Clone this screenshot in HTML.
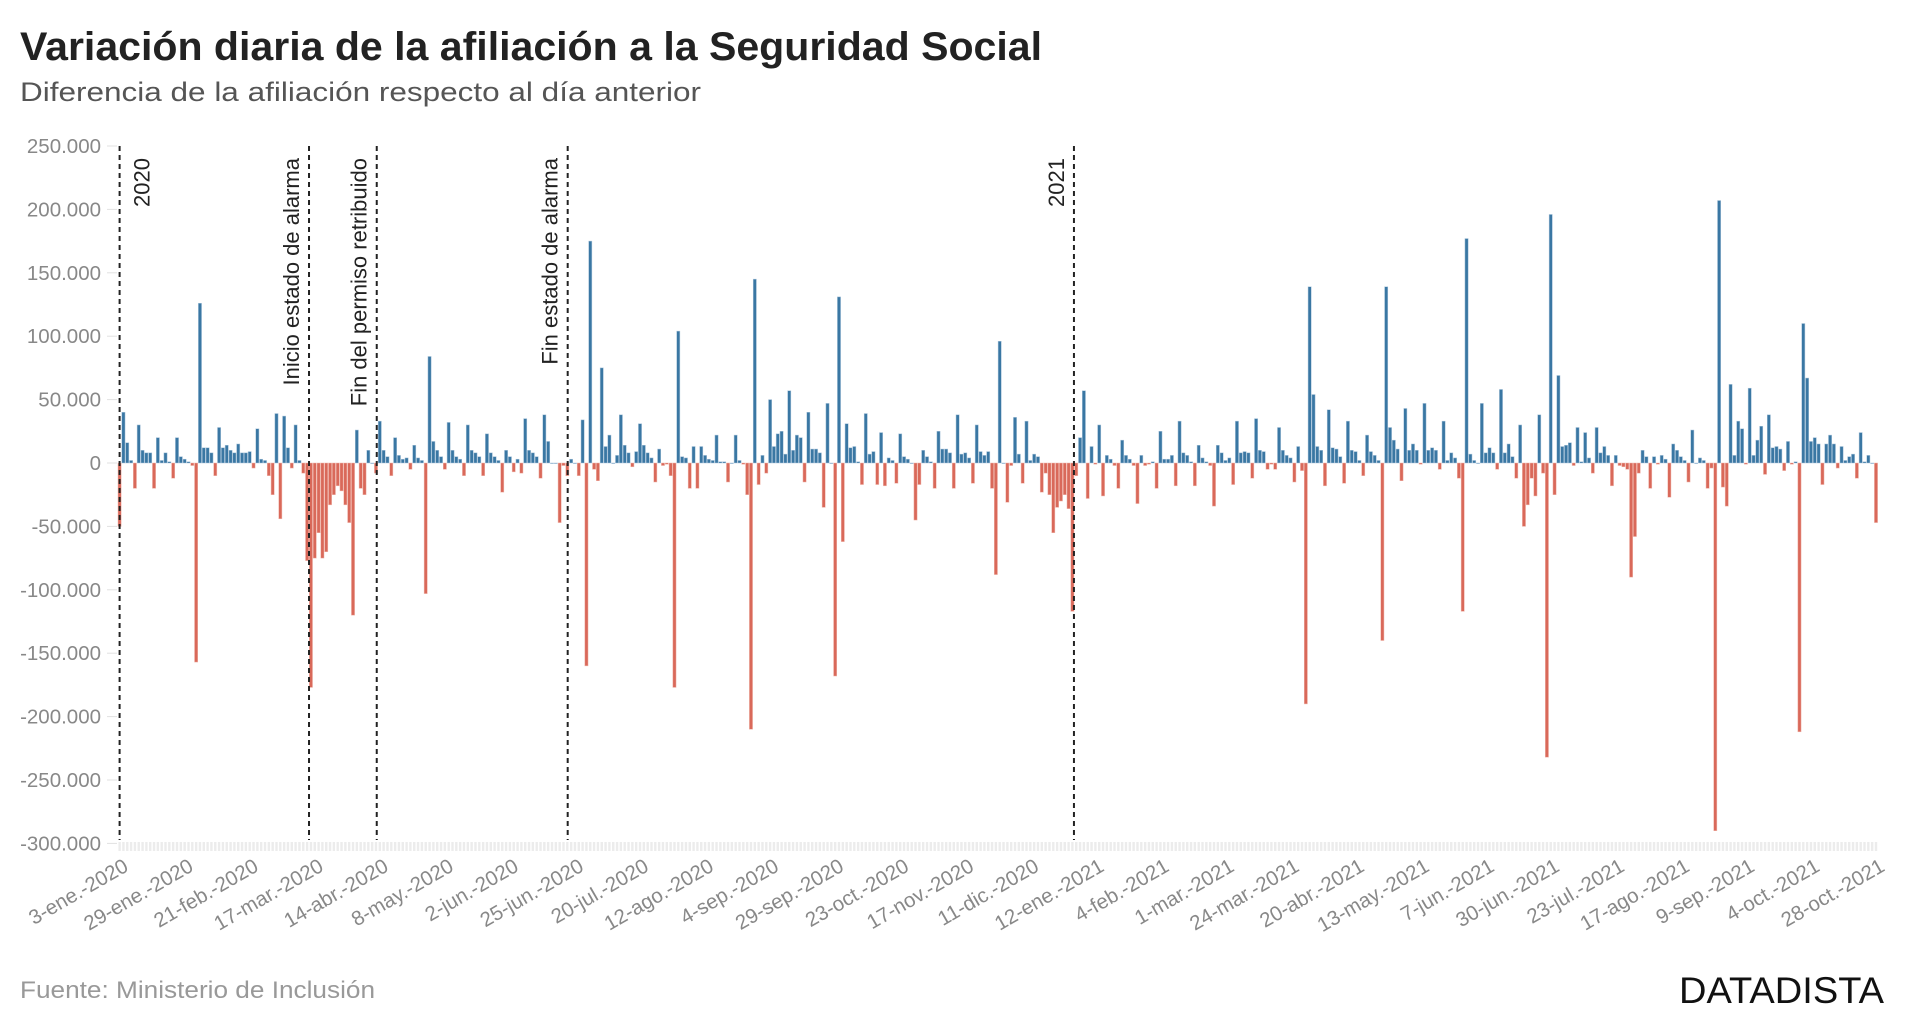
<!DOCTYPE html>
<html><head><meta charset="utf-8"><style>
html,body{margin:0;padding:0;background:#fff;}
svg{display:block;font-family:"Liberation Sans",sans-serif;}
</style></head><body>
<svg id="chart" width="1914" height="1034" viewBox="0 0 1914 1034" xmlns="http://www.w3.org/2000/svg">
<text x="20" y="60" font-size="40" font-weight="bold" fill="#222" textLength="1022" lengthAdjust="spacingAndGlyphs">Variación diaria de la afiliación a la Seguridad Social</text>
<text x="20" y="101" font-size="27" fill="#555" textLength="681" lengthAdjust="spacingAndGlyphs">Diferencia de la afiliación respecto al día anterior</text>
<g id="yaxis"></g>
<g id="ticks"></g>
<g id="bars"></g>
<g id="events"></g>
<g id="xaxis"></g>
<text x="20" y="998" font-size="24" fill="#999" textLength="355" lengthAdjust="spacingAndGlyphs">Fuente: Ministerio de Inclusión</text>
<text x="1884" y="1003" font-size="37" fill="#111" text-anchor="end" textLength="205" lengthAdjust="spacingAndGlyphs">DATADISTA</text>
</svg>
<script>
// daily change in thousands, one value per working day
const values = [
-50,40,16,2,-20,30,10,8,8,-20,20,2,8,1,-12,20,5,3,1,-2,-157,126,12,12,8,-10,28,12,14,10,8,15,8,8,9,-4,27,3,2,-10,-25,39,-44,37,12,-4,30,2,
-8,-77,-177,-75,-55,-75,-70,-33,-25,-18,-22,-33,-47,-120,26,-20,-25,10,0,-8,
33,10,5,-10,20,6,3,4,-5,14,4,2,-103,84,17,10,5,-5,32,10,5,3,-10,30,10,8,5,-10,23,8,5,2,-23,10,5,-7,3,-8,35,10,8,5,-12,38,17,0,0,-47,-2,
-10,3,0,-10,34,-160,175,-5,-14,75,13,22,0,6,38,14,8,-3,9,31,14,8,4,-15,11,-2,-1,-10,-177,104,5,4,-20,13,
-20,13,6,3,2,22,1,1,-15,0,22,2,-1,-25,-210,145,
-17,6,-8,50,13,23,25,7,57,10,22,20,-15,40,11,11,8,-35,47,0,-168,131,-62,
31,12,13,1,-17,39,7,9,-17,24,-18,4,2,-16,23,5,3,0,-45,-17,10,5,1,-20,25,11,11,8,-20,38,7,8,4,-16,30,9,6,
9,-20,-88,96,0,-31,-2,36,7,-16,33,2,7,5,-23,-8,-25,-55,-35,-30,-25,-36,-117,
-10,20,57,-28,13,-1,30,-26,6,3,-2,-20,18,6,3,-2,-32,6,-2,-1,1,-20,25,3,3,6,-18,33,8,6,1,-18,14,4,1,-2,-34,14,8,2,4,-17,33,8,9,8,-12,35,10,9,-5,-1,
-5,28,10,6,4,-15,13,-6,-190,139,54,13,10,-18,42,12,11,5,-16,33,10,9,2,-10,22,9,6,2,-140,139,28,18,11,-14,43,10,15,10,-1,47,10,12,10,-5,33,2,8,4,-12,-117,177,7,2,0,47,8,12,8,-5,58,8,15,5,-12,30,-50,-33,-12,-26,38,-8,-232,196,-25,69,13,14,16,
-2,28,1,24,4,-8,28,8,13,6,-18,6,-2,-3,-5,-90,-58,-8,10,5,-20,5,-1,6,3,-27,15,10,5,2,-15,26,0,4,2,-20,-4,
-290,207,-19,-34,62,6,33,27,-1,59,6,18,29,-9,38,12,13,11,-6,17,-1,1,
-212,110,67,17,20,15,-17,15,22,15,-4,13,2,5,7,-12,24,1,6,0,-47
];
const xLabels = ["3-ene.-2020","29-ene.-2020","21-feb.-2020","17-mar.-2020","14-abr.-2020","8-may.-2020","2-jun.-2020","25-jun.-2020","20-jul.-2020","12-ago.-2020","4-sep.-2020","29-sep.-2020","23-oct.-2020","17-nov.-2020","11-dic.-2020","12-ene.-2021","4-feb.-2021","1-mar.-2021","24-mar.-2021","20-abr.-2021","13-may.-2021","7-jun.-2021","30-jun.-2021","23-jul.-2021","17-ago.-2021","9-sep.-2021","4-oct.-2021","28-oct.-2021"];
const labelStep = 17;
const yTicks = [250,200,150,100,50,0,-50,-100,-150,-200,-250,-300];
const yTickLabels = ["250.000","200.000","150.000","100.000","50.000","0","-50.000","-100.000","-150.000","-200.000","-250.000","-300.000"];
const eventNames = ["2020","Inicio estado de alarma","Fin del permiso retribuido","Fin estado de alarma","2021"];
const eventIndex = [0,49.5,67.2,117.1,249.4];

const NS="http://www.w3.org/2000/svg";
const X0=119.6, X1=1876, Y0=463, K=1.268;
const N=values.length;
const pitch=(X1-X0)/(N-1);
function x(i){return X0+i*pitch;}
function y(v){return Y0-v*K;}
function mk(tag,attrs,parent){const e=document.createElementNS(NS,tag);for(const k in attrs)e.setAttribute(k,attrs[k]);parent.appendChild(e);return e;}

const ya=document.getElementById('yaxis');
yTicks.forEach((v,k)=>{
  const t=mk('text',{x:101,y:y(v)+7,'font-size':20.5,fill:'#888','text-anchor':'end'},ya);
  t.textContent=yTickLabels[k];
  
  
  const l=mk('line',{x1:107,x2:117,y1:y(v),y2:y(v),stroke:'#e2e2e2','stroke-width':1},ya);
  
  
});

const tk=document.getElementById('ticks');
for(let i=0;i<N;i++){
  const r=mk('rect',{x:x(i)-1.2,y:842,width:2.4,height:9,fill:'#ececec'},tk);
  
  
}

const bg=document.getElementById('bars');
values.forEach((v,i)=>{
  const top=Math.min(y(v),Y0), h=Math.max(Math.abs(y(v)-Y0),0.6);
  const r=mk('rect',{x:x(i)-1.6,y:top,width:3.2,height:h,fill:v>=0?'#3a77a3':'#d9695a',stroke:v>=0?'#a9c4da':'#f0b8ae','stroke-width':0.5},bg);
  
  
});

const ev=document.getElementById('events');
eventIndex.forEach((ei,k)=>{
  const lx=x(ei);
  const l=mk('line',{x1:lx,x2:lx,y1:146,y2:840,stroke:'#222','stroke-width':2,'stroke-dasharray':'5,4'},ev);
  
  
  const tx = k===0 ? lx+30 : lx-10;
  const t=mk('text',{x:tx,y:158,'font-size':22,fill:'#222','text-anchor':'end',transform:'rotate(-90 '+tx+' 158)'},ev);
  t.textContent=eventNames[k];
  
  
});

const xa=document.getElementById('xaxis');
xLabels.forEach((s,k)=>{
  const lx=x(k*labelStep)+10, ly=870;
  const t=mk('text',{x:lx,y:ly,'font-size':20.5,fill:'#888','text-anchor':'end',transform:'rotate(-30 '+lx+' '+ly+')'},xa);
  t.textContent=s;
  
  
});
</script>
</body></html>
